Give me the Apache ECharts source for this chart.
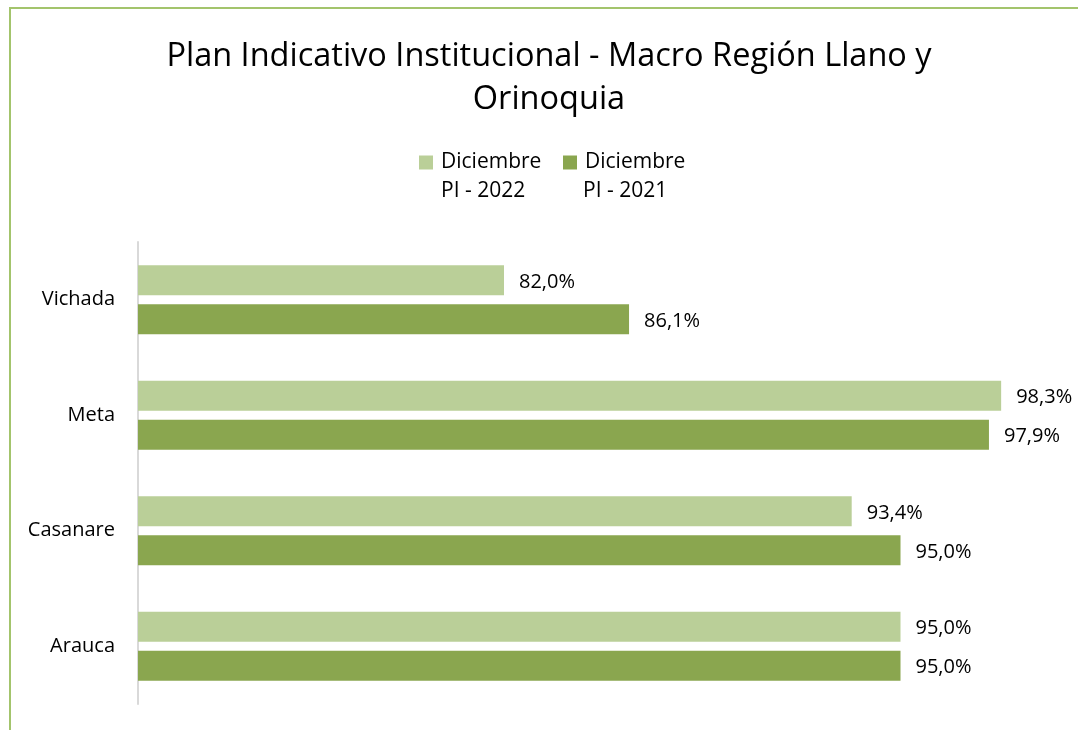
<!DOCTYPE html>
<html>
<head>
<meta charset="utf-8">
<script src="https://cdn.jsdelivr.net/npm/echarts@6/dist/echarts.min.js"></script>
<style>
  html, body { margin: 0; padding: 0; background: #fff; }
  #frame { position: absolute; left: 9px; top: 7px; width: 1080px; height: 730px;
           border-left: 2px solid #A3C46C; border-top: 2px solid #A3C46C; }
  #chart { width: 1078px; height: 730px; }
</style>
</head>
<body>
<div id="frame"></div>
<div id="chart"></div>
<script>
    // departamentos, de abajo hacia arriba como los pone el eje
    const departamentos = ['Arauca', 'Casanare', 'Meta', 'Vichada'];
    const pi2022 = [0.950, 0.934, 0.983, 0.820];
    const pi2021 = [0.950, 0.950, 0.979, 0.861];
    const nombres = ['Diciembre PI - 2022', 'Diciembre PI - 2021'];

    const fuente = 'Open Sans';
    const chartDom = document.getElementById('chart');
    const myChart = echarts.init(chartDom);

    const pct = function (p) {
        return (p.value * 100).toFixed(1).replace('.', ',') + '%';
    };

    const etiqueta = {
        show: true,
        position: 'right',
        distance: 15,
        offset: [0, 2],
        formatter: pct,
        color: '#000',
        fontSize: 20,
        fontFamily: fuente
    };

    // la leyenda muestra "Diciembre" y la segunda linea va debajo como texto
    const leyenda = function (nombre, x) {
        return {
            data: [nombre],
            left: x - 5,
            top: 152,
            padding: [0, 5],
            itemWidth: 14,
            itemHeight: 14,
            icon: 'rect',
            formatter: function (n) { return n.split(' PI')[0]; },
            textStyle: { fontSize: 21, fontFamily: fuente, color: '#000', padding: [0, 0, 0, 3] }
        };
    };

    const segundaLinea = function (nombre, x) {
        return {
            type: 'text',
            left: x,
            top: 181,
            style: {
                text: nombre.replace('Diciembre ', ''),
                fontSize: 21,
                fontFamily: fuente,
                fill: '#000'
            }
        };
    };

    const option = {
        animation: false,
        title: {
            text: 'Plan Indicativo Institucional - Macro Región Llano y\nOrinoquia',
            left: 544,
            top: 30,
            textAlign: 'center',
            textStyle: {
                fontSize: 32.5,
                fontWeight: 'normal',
                fontFamily: fuente,
                color: '#000',
                lineHeight: 43
            }
        },
        legend: [leyenda(nombres[0], 419), leyenda(nombres[1], 563)],
        graphic: [segundaLinea(nombres[0], 441), segundaLinea(nombres[1], 583)],
        grid: {
            left: 138,
            right: 25,
            top: 242,
            bottom: 26
        },
        xAxis: {
            type: 'value',
            min: 0.7,
            max: 1.0,
            show: false
        },
        yAxis: {
            type: 'category',
            data: departamentos,
            axisLine: { lineStyle: { color: '#D9D9D9', width: 2 } },
            axisTick: { show: false },
            axisLabel: {
                margin: 23,
                fontSize: 20,
                fontFamily: fuente,
                color: '#000'
            }
        },
        series: [
            {
                name: nombres[0],
                type: 'bar',
                data: pi2022,
                barWidth: 30,
                barGap: '30%',
                itemStyle: { color: '#BACF98' },
                label: etiqueta
            },
            {
                name: nombres[1],
                type: 'bar',
                data: pi2021,
                barWidth: 30,
                barGap: '30%',
                itemStyle: { color: '#8AA64F' },
                label: etiqueta
            }
        ]
    };

    myChart.setOption(option);
</script>
</body>
</html>
